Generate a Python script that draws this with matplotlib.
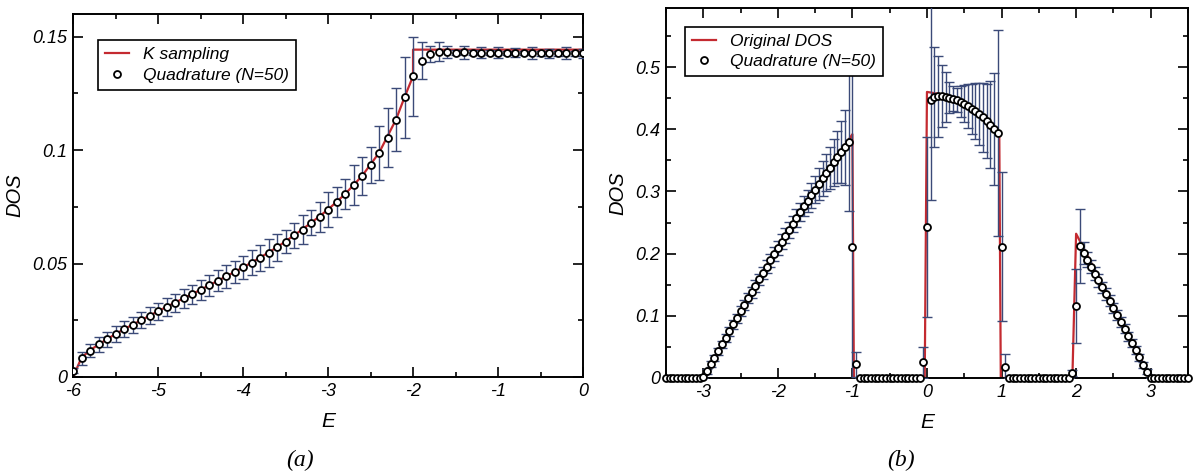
import numpy as np
import matplotlib
matplotlib.use('Agg')
import matplotlib.pyplot as plt
import matplotlib.ticker as plticker

plt.rcParams['font.family'] = ['Liberation Sans', 'DejaVu Sans']
plt.rcParams['font.style'] = 'italic'
plt.rcParams['axes.unicode_minus'] = False

RED = '#c42a30'
BAR = '#3b4a78'

# (a) quadrature estimate vs k-sampling
qa_e = np.linspace(-6.0, 0.0, 61)
qa_dos = [0.0028, 0.0082, 0.0116, 0.0145, 0.0166, 0.0189, 0.0211, 0.0229, 0.0250, 0.0270,
          0.0290, 0.0309, 0.0328, 0.0346, 0.0365, 0.0384, 0.0404, 0.0424, 0.0443, 0.0463,
          0.0483, 0.0504, 0.0526, 0.0547, 0.0572, 0.0596, 0.0624, 0.0650, 0.0679, 0.0706,
          0.0738, 0.0771, 0.0806, 0.0845, 0.0886, 0.0936, 0.0988, 0.1054, 0.1135, 0.1233,
          0.1326, 0.1395, 0.1424, 0.1434, 0.1432, 0.1430, 0.1431, 0.1430, 0.1429, 0.1430,
          0.1429, 0.1428, 0.1429, 0.1428, 0.1428, 0.1427, 0.1428, 0.1427, 0.1428, 0.1427,
          0.1428]
qa_err = [0.0010, 0.0030, 0.0030, 0.0033, 0.0033, 0.0035, 0.0035, 0.0036, 0.0036, 0.0037,
          0.0037, 0.0038, 0.0040, 0.0040, 0.0042, 0.0045, 0.0045, 0.0047, 0.0050, 0.0050,
          0.0052, 0.0055, 0.0058, 0.0060, 0.0060, 0.0050, 0.0055, 0.0065, 0.0055, 0.0065,
          0.0077, 0.0065, 0.0065, 0.0088, 0.0084, 0.0080, 0.0120, 0.0130, 0.0140, 0.0178,
          0.0174, 0.0080, 0.0037, 0.0042, 0.0025, 0.0010, 0.0030, 0.0010, 0.0025, 0.0010,
          0.0025, 0.0010, 0.0020, 0.0010, 0.0025, 0.0010, 0.0020, 0.0010, 0.0025, 0.0010,
          0.0020]
ks_e = [-6.0, -5.9, -5.8, -5.6, -5.4, -5.2, -5.0, -4.8, -4.6, -4.4, -4.2, -4.0, -3.8,
        -3.6, -3.4, -3.2, -3.0, -2.8, -2.6, -2.4, -2.2, -2.1, -2.0, -2.0, 0.0]
ks_dos = [0.0, 0.0085, 0.0118, 0.0167, 0.0211, 0.0250, 0.0290, 0.0328, 0.0365, 0.0404,
          0.0443, 0.0483, 0.0526, 0.0572, 0.0624, 0.0679, 0.0738, 0.0806, 0.0886, 0.0988,
          0.1135, 0.1233, 0.1326, 0.1443, 0.1443]

# (b) quadrature estimate vs original DOS
qb_e = np.linspace(-3.5, 3.5, 141)
qb_dos = ([0.0] * 10 + [0.002] +
          [0.011, 0.022, 0.032, 0.043, 0.054, 0.064, 0.075, 0.086, 0.096, 0.107,
           0.117, 0.128, 0.138, 0.148, 0.159, 0.169, 0.179, 0.189, 0.199, 0.209,
           0.219, 0.229, 0.238, 0.248, 0.257, 0.267, 0.276, 0.285, 0.294, 0.303,
           0.312, 0.321, 0.330, 0.338, 0.347, 0.355, 0.363, 0.371, 0.379] +
          [0.210, 0.022] + [0.0] * 17 + [0.025, 0.243] +
          [0.447, 0.452, 0.453, 0.453, 0.452, 0.451, 0.449, 0.447, 0.444, 0.441,
           0.437, 0.433, 0.429, 0.424, 0.419, 0.413, 0.407, 0.400, 0.394] +
          [0.211, 0.018] + [0.0] * 17 + [0.008, 0.116] +
          [0.212, 0.201, 0.190, 0.179, 0.168, 0.157, 0.146, 0.135, 0.124, 0.113,
           0.101, 0.090, 0.079, 0.067, 0.056, 0.045, 0.033, 0.021, 0.010] +
          [0.0] * 11)
qb_err = ([0.0] * 10 + [0.002] +
          [0.004, 0.005, 0.005, 0.006, 0.006, 0.006, 0.007, 0.007, 0.007, 0.008,
           0.008, 0.008, 0.009, 0.009, 0.009, 0.010, 0.010, 0.010, 0.011, 0.011,
           0.012, 0.012, 0.013, 0.013, 0.014, 0.015, 0.016, 0.018, 0.020, 0.022,
           0.025, 0.028, 0.030, 0.034, 0.038, 0.042, 0.050, 0.060, 0.110] +
          [0.280, 0.020] + [0.0] * 17 + [0.025, 0.145] +
          [0.160, 0.080, 0.065, 0.050, 0.040, 0.025, 0.020, 0.020, 0.025, 0.030,
           0.035, 0.040, 0.045, 0.050, 0.055, 0.060, 0.070, 0.090, 0.165] +
          [0.120, 0.020] + [0.0] * 17 + [0.005, 0.060] +
          [0.060, 0.018, 0.012, 0.010, 0.010, 0.010, 0.009, 0.009, 0.009, 0.008,
           0.008, 0.008, 0.007, 0.007, 0.006, 0.006, 0.005, 0.005, 0.004] +
          [0.0] * 11)
orig_e = [-3.5, -3.0, -2.5, -2.0, -1.5, -1.0, -0.98, -0.03, 0.0, 0.2, 0.4, 0.6, 0.8,
          0.97, 0.99, 1.95, 2.0, 3.0, 3.5]
orig_dos = [0.0, 0.0, 0.108, 0.212, 0.305, 0.392, 0.0, 0.0, 0.460, 0.456, 0.448,
            0.434, 0.412, 0.392, 0.0, 0.0, 0.232, 0.0, 0.0]


def style_axis(ax, xmaj, xmin, ymaj, ymin):
    ax.xaxis.set_major_locator(plticker.MultipleLocator(xmaj))
    ax.xaxis.set_minor_locator(plticker.MultipleLocator(xmin))
    ax.yaxis.set_major_locator(plticker.MultipleLocator(ymaj))
    ax.yaxis.set_minor_locator(plticker.MultipleLocator(ymin))
    ax.yaxis.set_major_formatter(plticker.FormatStrFormatter('%g'))
    ax.xaxis.set_major_formatter(plticker.FormatStrFormatter('%g'))
    ax.tick_params(which='both', direction='in', top=True, right=True,
                   width=1.2, labelsize=13, pad=4)
    ax.tick_params(which='major', length=7)
    ax.tick_params(which='minor', length=3.5)
    for s in ax.spines.values():
        s.set_linewidth(1.4)
    ax.set_xlabel('E', fontsize=15, labelpad=9)
    ax.set_ylabel('DOS', fontsize=14.5, labelpad=6)


fig = plt.figure(figsize=(11.95, 4.72), dpi=100)
ax1 = fig.add_axes([0.0611, 0.2013, 0.4268, 0.769])
ax2 = fig.add_axes([0.5573, 0.1992, 0.4368, 0.7839])

ax1.plot(ks_e, ks_dos, color=RED, lw=1.6, label='K sampling', zorder=2)
ax1.errorbar(qa_e, qa_dos, yerr=qa_err, fmt='none', ecolor=BAR, elinewidth=1.0,
             capsize=3.5, capthick=1.0, zorder=3)
ax1.plot(qa_e, qa_dos, 'o', ms=5, mfc='white', mec='black', mew=1.3,
         label='Quadrature (N=50)', zorder=4)
ax1.set_xlim(-6, 0)
ax1.set_ylim(0, 0.16)
style_axis(ax1, 1, 0.5, 0.05, 0.025)
leg = ax1.legend(loc='upper left', bbox_to_anchor=(0.049, 0.928), borderaxespad=0,
                 fontsize=12.5, fancybox=False, edgecolor='black', framealpha=1,
                 handlelength=1.4, handletextpad=0.8, borderpad=0.4, labelspacing=0.3)
leg.get_frame().set_linewidth(1.2)

ax2.plot(orig_e, orig_dos, color=RED, lw=1.6, label='Original DOS', zorder=2)
ax2.errorbar(qb_e, qb_dos, yerr=qb_err, fmt='none', ecolor=BAR, elinewidth=1.0,
             capsize=3.5, capthick=1.0, zorder=3)
ax2.plot(qb_e, qb_dos, 'o', ms=5, mfc='white', mec='black', mew=1.3,
         label='Quadrature (N=50)', zorder=4, clip_on=False)
ax2.set_xlim(-3.5, 3.5)
ax2.set_ylim(0, 0.595)
style_axis(ax2, 1, 0.5, 0.1, 0.05)
leg = ax2.legend(loc='upper left', bbox_to_anchor=(0.036, 0.949), borderaxespad=0,
                 fontsize=12.5, fancybox=False, edgecolor='black', framealpha=1,
                 handlelength=1.4, handletextpad=0.8, borderpad=0.4, labelspacing=0.3)
leg.get_frame().set_linewidth(1.2)

fig.text(0.251, 0.012, '(a)', fontsize=17, family='Liberation Serif', ha='center')
fig.text(0.754, 0.012, '(b)', fontsize=17, family='Liberation Serif', ha='center')

fig.savefig('out.png', dpi=100)
